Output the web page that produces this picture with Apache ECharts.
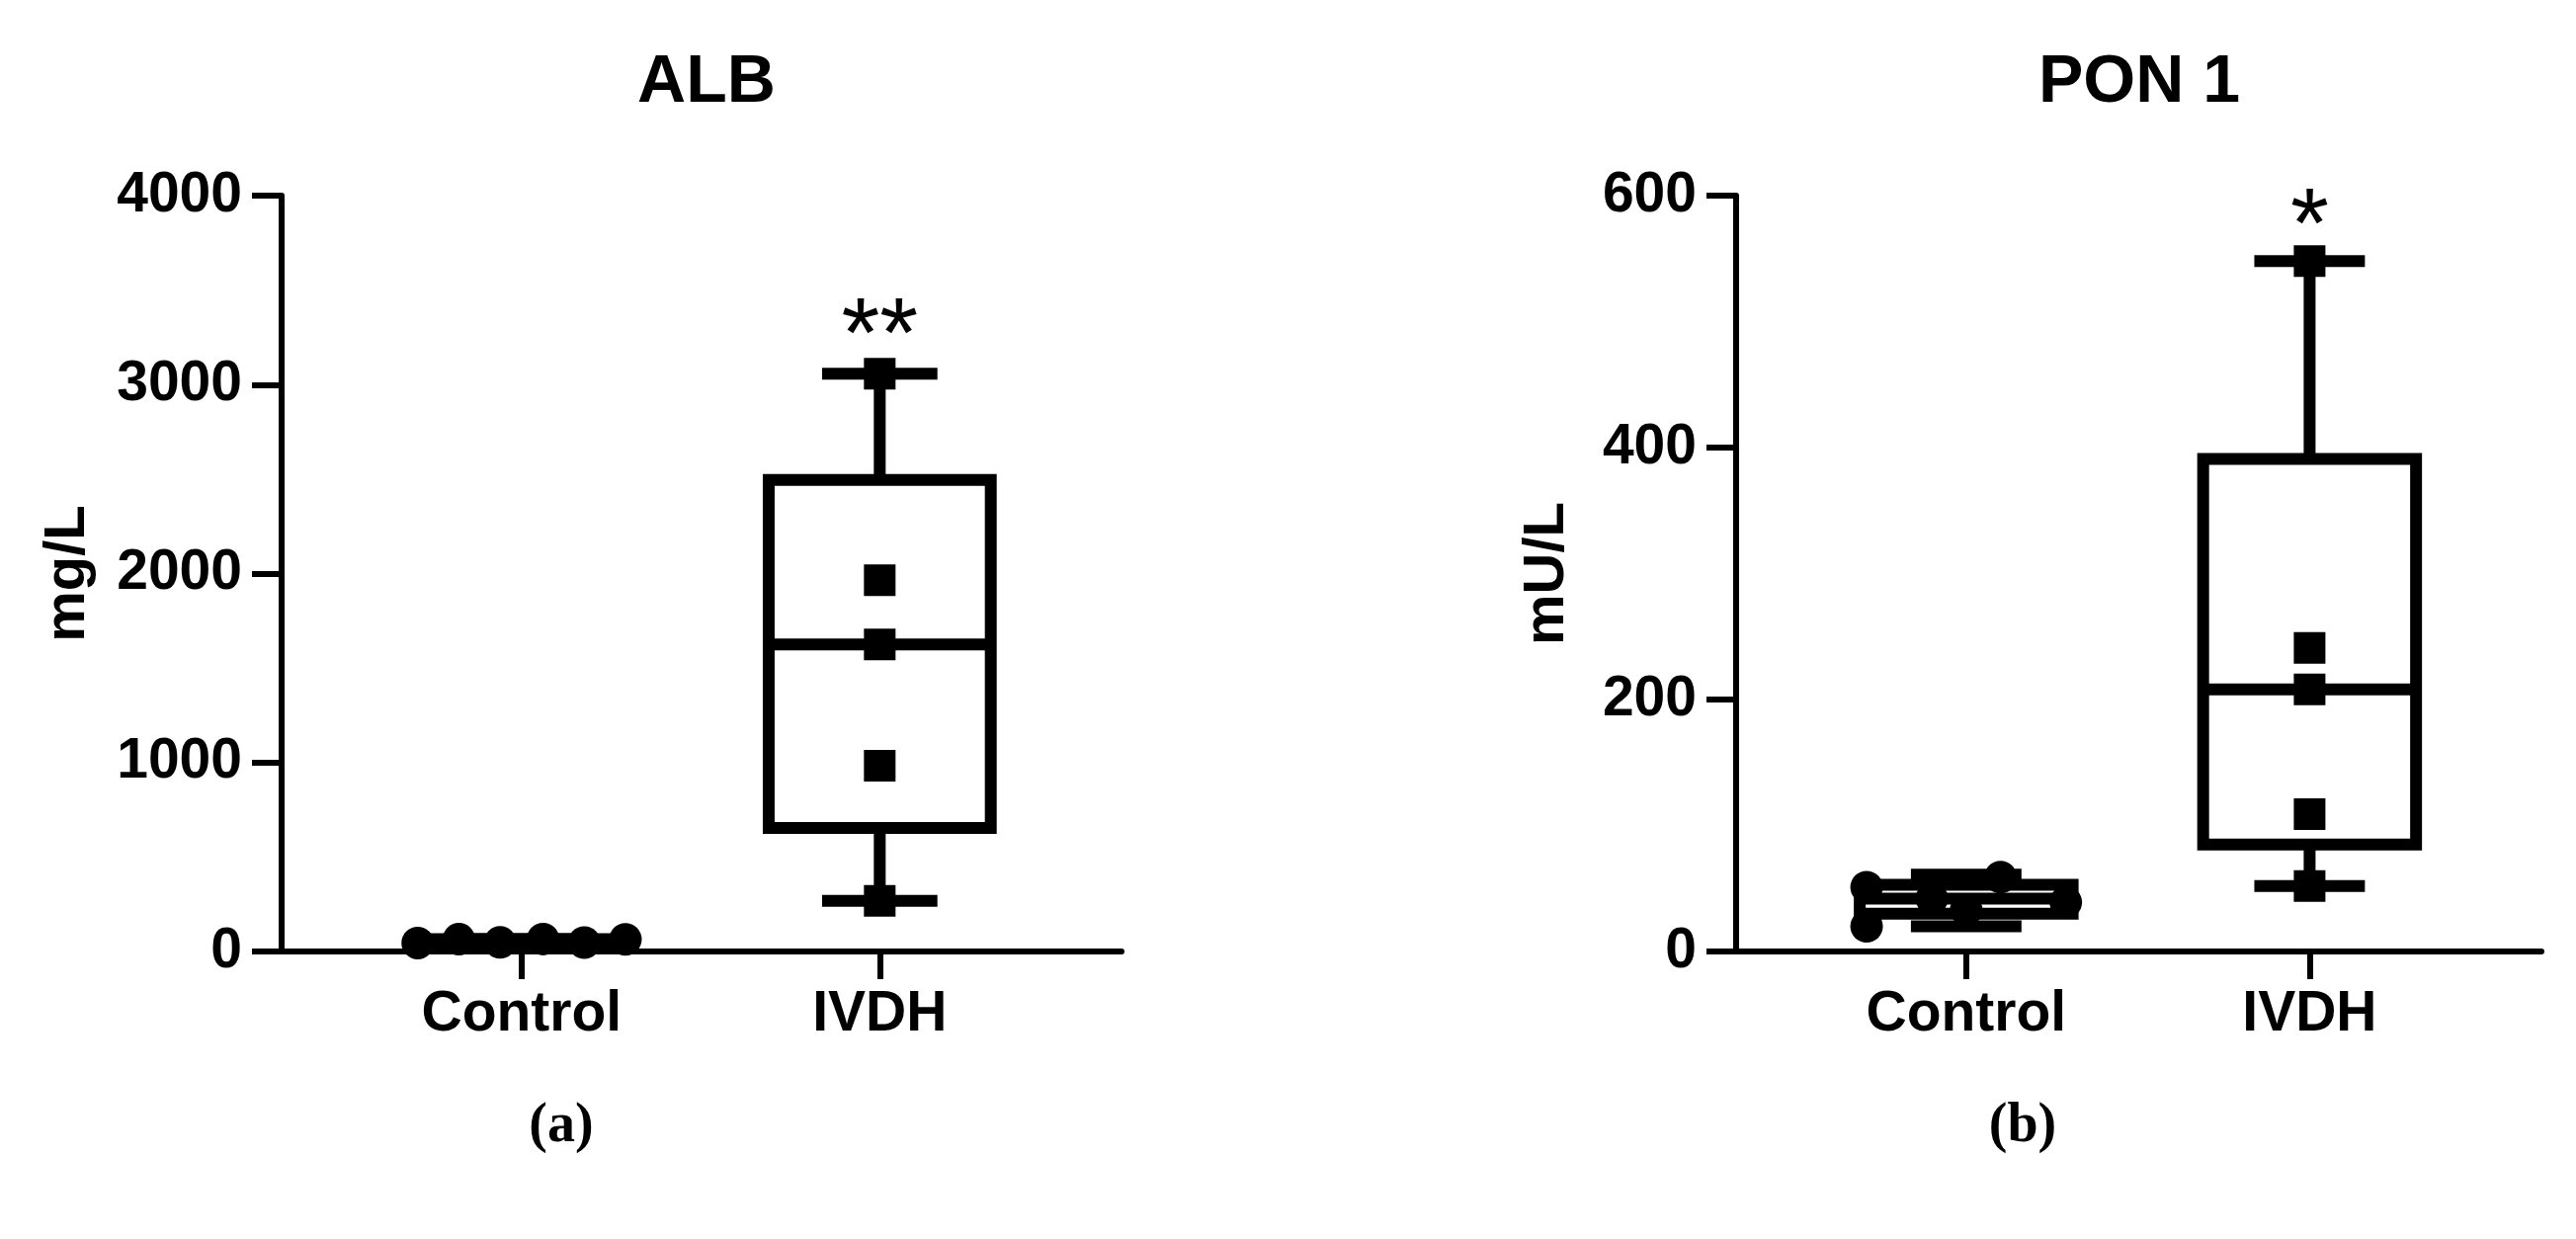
<!DOCTYPE html>
<html>
<head>
<meta charset="utf-8">
<script src="https://cdn.jsdelivr.net/npm/echarts@6/dist/echarts.min.js"></script>
<style>
html,body{margin:0;padding:0;background:#fff;}
#c{width:2607px;height:1254px;}
</style>
</head>
<body>
<div id="c"></div>
<script>
// ---------- data ----------
const categories = ['Control', 'IVDH'];
const albTicks = [0, 1000, 2000, 3000, 4000];
const ponTicks = [0, 200, 400, 600];

// ALB (mg/L)
const albControl = [45, 65, 48, 66, 47, 64];
const albControlJitter = [-0.29, -0.175, -0.06, 0.06, 0.175, 0.29];
const albIVDH = [3058, 1965, 1625, 983, 268];
const albBoxControl = [45, 46.5, 56, 65, 66];      // min, Q1, median, Q3, max
const albBoxIVDH = [268, 653, 1625, 2495, 3058];
const albSigValue = 3380;
const albSig = '**';

// PON 1 (mU/L)
const ponControl = [51, 20, 42, 33, 59, 39];
const ponControlJitter = [-0.29, -0.29, -0.10, 0, 0.10, 0.29];
const ponIVDH = [548, 241, 208, 109, 52];
const ponBoxControl = [20, 30, 42, 53, 61];
const ponBoxIVDH = [52, 85, 208, 391, 548];
const ponSigValue = 594;
const ponSig = '*';

// ---------- chart ----------
const FONT = 'Liberation Sans';
const BLACK = '#000';
const BOX_LW = 12;

function renderBox(params, api) {
  const x = api.value(0);
  const lo = api.coord([x, api.value(1)]);
  const q1 = api.coord([x, api.value(2)]);
  const md = api.coord([x, api.value(3)]);
  const q3 = api.coord([x, api.value(4)]);
  const hi = api.coord([x, api.value(5)]);
  const unit = api.size([1, 0])[0];
  const hb = unit * 0.31, hc = unit * 0.161;
  const cx = lo[0];
  const st = {stroke: BLACK, lineWidth: BOX_LW, fill: null};
  return {
    type: 'group',
    children: [
      {type: 'line', shape: {x1: cx, y1: hi[1], x2: cx, y2: q3[1]}, style: st},
      {type: 'line', shape: {x1: cx, y1: q1[1], x2: cx, y2: lo[1]}, style: st},
      {type: 'line', shape: {x1: cx - hc, y1: hi[1], x2: cx + hc, y2: hi[1]}, style: st},
      {type: 'line', shape: {x1: cx - hc, y1: lo[1], x2: cx + hc, y2: lo[1]}, style: st},
      {type: 'rect', shape: {x: cx - hb, y: q3[1], width: 2 * hb, height: q1[1] - q3[1]},
        style: {stroke: BLACK, lineWidth: BOX_LW, fill: 'none', lineJoin: 'miter'}},
      {type: 'line', shape: {x1: cx - hb, y1: md[1], x2: cx + hb, y2: md[1]}, style: st}
    ]
  };
}

function xAxisFor(gi) {
  return {
    gridIndex: gi, type: 'value', min: -0.67, max: 1.675,
    axisLine: {show: true, onZero: false, lineStyle: {color: BLACK, width: 6}},
    axisTick: {show: true, customValues: [0, 1], length: 28, lineStyle: {color: BLACK, width: 6}},
    axisLabel: {customValues: [0, 1], formatter: v => categories[Math.round(v)],
      fontSize: 57, fontWeight: 'bold', color: BLACK, fontFamily: FONT, margin: 36},
    splitLine: {show: false}
  };
}
function yAxisFor(gi, ticks, name, gap) {
  return {
    gridIndex: gi, type: 'value', min: ticks[0], max: ticks[ticks.length - 1],
    interval: ticks[1] - ticks[0],
    axisLine: {show: true, onZero: false, lineStyle: {color: BLACK, width: 6}},
    axisTick: {show: true, length: 30, lineStyle: {color: BLACK, width: 6}},
    axisLabel: {fontSize: 57, fontWeight: 'bold', color: BLACK, fontFamily: FONT, margin: 40,
      formatter: v => String(v)},
    splitLine: {show: false},
    name: name, nameLocation: 'middle', nameGap: gap,
    nameTextStyle: {fontSize: 58, fontWeight: 'bold', color: BLACK, fontFamily: FONT}
  };
}
function boxSeries(gi, boxC, boxI) {
  return {
    type: 'custom', xAxisIndex: gi, yAxisIndex: gi, z: 2,
    renderItem: renderBox,
    encode: {x: 0, y: [1, 2, 3, 4, 5]},
    data: [[0].concat(boxC), [1].concat(boxI)],
    silent: true
  };
}
function pointSeries(gi, vals, jitter, xIndex, symbol, size) {
  return {
    type: 'scatter', xAxisIndex: gi, yAxisIndex: gi, z: 3,
    symbol: symbol, symbolSize: size,
    itemStyle: {color: BLACK, opacity: 1},
    data: vals.map((v, i) => [xIndex + (jitter ? jitter[i] : 0), v]),
    silent: true
  };
}
function sigSeries(gi, value, text) {
  return {
    type: 'scatter', xAxisIndex: gi, yAxisIndex: gi, z: 4,
    symbolSize: 1, itemStyle: {color: '#fff', opacity: 1},
    label: {show: true, position: 'inside', formatter: text, fontSize: 100,
      fontFamily: FONT, color: BLACK, opacity: 1, offset: [0, 27]},
    data: [[1, value]],
    silent: true
  };
}

const chart = echarts.init(document.getElementById('c'), null, {renderer: 'canvas'});
chart.setOption({
  backgroundColor: '#fff',
  animation: false,
  textStyle: {fontFamily: FONT},
  title: [
    {text: 'ALB', left: 710, top: 45, textAlign: 'center',
      textStyle: {fontSize: 68, fontWeight: 'bold', color: BLACK, fontFamily: FONT}},
    {text: 'PON 1', left: 2160, top: 45, textAlign: 'center',
      textStyle: {fontSize: 68, fontWeight: 'bold', color: BLACK, fontFamily: FONT}},
    {text: '{p|(}{b|a}{p|)}', left: 563, top: 1108, textAlign: 'center',
      textStyle: {rich: {
        p: {fontFamily: 'Liberation Serif', fontSize: 56, color: BLACK},
        b: {fontFamily: 'Liberation Serif', fontSize: 56, color: BLACK, fontWeight: 'bold'}}}},
    {text: '{p|(}{b|b}{p|)}', left: 2042, top: 1108, textAlign: 'center',
      textStyle: {rich: {
        p: {fontFamily: 'Liberation Serif', fontSize: 56, color: BLACK},
        b: {fontFamily: 'Liberation Serif', fontSize: 56, color: BLACK, fontWeight: 'bold'}}}}
  ],
  grid: [
    {left: 285, top: 198, width: 850, height: 765, containLabel: false, outerBoundsMode: 'none'},
    {left: 1757, top: 198, width: 815, height: 765, containLabel: false, outerBoundsMode: 'none'}
  ],
  xAxis: [xAxisFor(0), xAxisFor(1)],
  yAxis: [yAxisFor(0, albTicks, 'mg/L', 187), yAxisFor(1, ponTicks, 'mU/L', 162)],
  series: [
    boxSeries(0, albBoxControl, albBoxIVDH),
    pointSeries(0, albControl, albControlJitter, 0, 'circle', 33),
    pointSeries(0, albIVDH, null, 1, 'rect', 32),
    sigSeries(0, albSigValue, albSig),
    boxSeries(1, ponBoxControl, ponBoxIVDH),
    pointSeries(1, ponControl, ponControlJitter, 0, 'circle', 33),
    pointSeries(1, ponIVDH, null, 1, 'rect', 32),
    sigSeries(1, ponSigValue, ponSig)
  ]
});
</script>
</body>
</html>
